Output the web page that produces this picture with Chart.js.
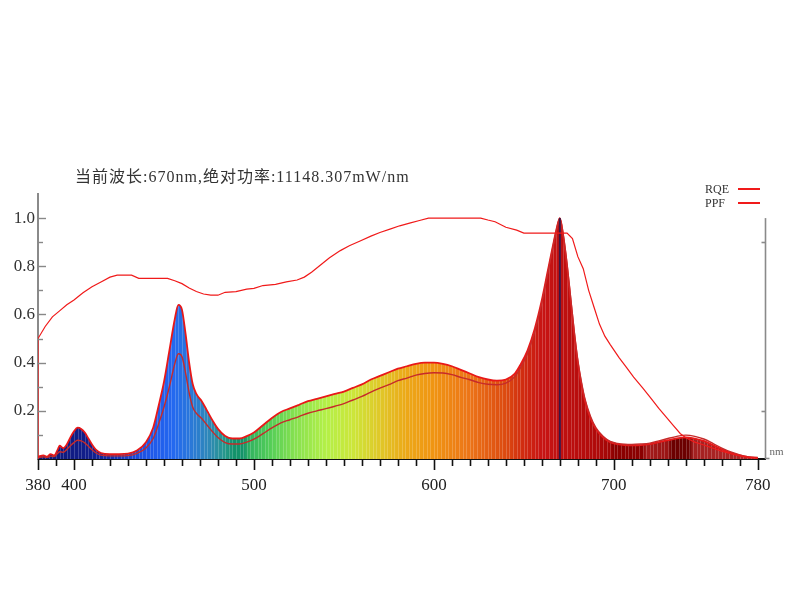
<!DOCTYPE html>
<html>
<head>
<meta charset="utf-8">
<script src="https://cdn.jsdelivr.net/npm/chart.js@4.4.1/dist/chart.umd.min.js"></script>
<style>
  body { margin: 0; background: #fff; }
  #wrap { position: relative; width: 800px; height: 600px; }
  #title {
    position: absolute; left: 75px; top: 163px;
    font: 16px "Liberation Serif", "Noto Sans CJK SC", serif;
    letter-spacing: 1px; color: #333; white-space: nowrap;
  }
  .leg {
    position: absolute; left: 705px; width: 60px; height: 14px;
    font: 12px "Liberation Serif", serif; color: #333; line-height: 14px;
  }
  .leg span {
    position: absolute; left: 33px; top: 6px; width: 22px; height: 2px;
    background: #f01a1a;
  }
</style>
</head>
<body>
<div id="wrap">
  <canvas id="myChart" width="800" height="600"></canvas>
  <div id="title">当前波长:670nm,绝对功率:11148.307mW/nm</div>
  <div class="leg" style="top:182px">RQE<span></span></div>
  <div class="leg" style="top:196px">PPF<span></span></div>
</div>
<script>
const ctx = document.getElementById('myChart').getContext('2d');

// spectrum, wavelengths (nm) and relative values
const specNm = [380,383,385,387,389,391,392,394,396,398,400,402,404,406,408,410,412,415,420,425,
  430,435,440,444,447,450,453,456,458,460,462,464,466,468,471,474,477,480,484,488,
  492,496,500,505,510,515,520,525,530,535,540,545,550,555,560,565,570,575,580,585,
  590,595,600,605,610,615,620,625,630,635,640,645,648,652,656,660,663,666,668,670,
  672,674,676,678,680,682,684,687,690,694,698,702,706,710,715,720,725,730,735,740,
  745,750,755,760,765,770,775,780];
const specVal = [0.010,0.015,0.010,0.020,0.015,0.040,0.055,0.045,0.060,0.090,0.115,0.130,0.125,0.110,0.085,0.060,0.040,0.025,0.020,0.020,
  0.022,0.035,0.070,0.130,0.220,0.320,0.450,0.580,0.640,0.620,0.520,0.400,0.310,0.270,0.240,0.200,0.160,0.125,0.095,0.085,
  0.085,0.095,0.110,0.140,0.170,0.195,0.210,0.225,0.240,0.250,0.260,0.270,0.280,0.295,0.310,0.330,0.345,0.360,0.375,0.385,
  0.395,0.400,0.400,0.395,0.385,0.370,0.355,0.340,0.330,0.325,0.330,0.355,0.390,0.450,0.540,0.660,0.770,0.880,0.950,1.000,
  0.920,0.800,0.660,0.520,0.400,0.310,0.240,0.170,0.125,0.090,0.070,0.062,0.058,0.057,0.058,0.062,0.070,0.078,0.086,0.090,
  0.085,0.075,0.058,0.040,0.025,0.015,0.008,0.005];
// PPF curve, same wavelengths
const ppfVal = [0.006,0.009,0.006,0.012,0.010,0.024,0.030,0.028,0.040,0.055,0.068,0.078,0.075,0.067,0.053,0.038,0.026,0.016,0.013,0.013,
  0.014,0.023,0.046,0.085,0.145,0.215,0.300,0.395,0.437,0.425,0.357,0.275,0.215,0.190,0.168,0.140,0.113,0.089,0.068,0.062,
  0.062,0.070,0.082,0.105,0.129,0.150,0.163,0.176,0.190,0.200,0.209,0.219,0.230,0.245,0.260,0.278,0.294,0.309,0.325,0.336,
  0.348,0.355,0.358,0.357,0.350,0.339,0.329,0.317,0.310,0.308,0.315,0.342,0.377,0.438,0.528,0.650,0.760,0.875,0.947,1.000,
  0.925,0.810,0.670,0.530,0.410,0.320,0.248,0.177,0.130,0.094,0.073,0.065,0.061,0.060,0.062,0.066,0.075,0.085,0.094,0.099,
  0.094,0.083,0.065,0.045,0.029,0.017,0.009,0.006];

// RQE curve
const rqeNm = [380,380,384,388,392,396,400,405,410,415,420,424,432,436,452,456,460,464,468,472,
  476,480,484,490,496,500,505,512,518,524,528,532,537,542,548,553,559,565,570,576,
  581,587,592,597,626,630,634,640,646,650,674,677,680,683,686,689,692,695,698,703,
  707,711,716,720,725,729,733,737,740,745,750,755,760,765,770,775,780];
const rqeVal = [0,0.50,0.55,0.59,0.615,0.64,0.66,0.69,0.715,0.735,0.755,0.763,0.763,0.75,0.75,0.74,0.728,0.71,0.695,0.685,
  0.68,0.68,0.692,0.695,0.705,0.708,0.72,0.725,0.735,0.743,0.755,0.775,0.805,0.835,0.865,0.885,0.905,0.925,0.94,0.955,
  0.968,0.98,0.99,1.0,1.0,0.992,0.985,0.962,0.95,0.938,0.938,0.915,0.84,0.79,0.70,0.63,0.56,0.51,0.475,0.42,
  0.38,0.34,0.295,0.258,0.21,0.175,0.14,0.105,0.088,0.07,0.058,0.045,0.032,0.022,0.013,0.007,0.004];

// current wavelength marker
const markerNm = 670;
const markerVal = 1.0;

const xLabels = [380, 400, 500, 600, 700, 780];
const yLabels = [0.2, 0.4, 0.6, 0.8, 1.0];

// colour of the fill along the spectrum
const spectrumStops = [
  [380,'#0e1876'],[410,'#121e8c'],[425,'#1a38bc'],[440,'#1e54e6'],[455,'#2468f0'],
  [465,'#2a78d8'],[475,'#2e88b8'],[484,'#26988a'],[489,'#12926a'],[494,'#14946a'],
  [498,'#34b460'],[508,'#50cc58'],[522,'#84e050'],[540,'#b4f048'],[555,'#cce63a'],
  [570,'#e0c828'],[585,'#eca818'],[600,'#f09412'],[620,'#ec7418'],[640,'#dc4a10'],
  [650,'#d02a10'],[660,'#c81414'],[690,'#b00a0a'],[698,'#a00606'],[700,'#8a0000'],
  [716,'#8a0000'],[718,'#a41c1c'],[730,'#9a1414'],[732,'#6c0000'],[742,'#6c0000'],
  [744,'#a42020'],[780,'#b02a2a']
];

const pts = (xs, ys) => xs.map((v, i) => ({x: v, y: ys[i]}));

let fillCache;
const spectrumFill = (context) => {
    const chart = context.chart;
    if (!chart.chartArea) return 'transparent';
    if (fillCache) return fillCache;
    const x = chart.scales.x;
    const off = document.createElement('canvas');
    off.width = chart.width;
    off.height = 1;
    const c = off.getContext('2d');
    const x0 = x.getPixelForValue(380), x1 = x.getPixelForValue(780);
    const g = c.createLinearGradient(x0, 0, x1, 0);
    spectrumStops.forEach(([nm, col]) => g.addColorStop((nm - 380) / 400, col));
    c.fillStyle = g;
    c.fillRect(0, 0, off.width, 1);
    // thin lighter stripes like the sampled bars
    c.fillStyle = 'rgba(255,255,255,0.2)';
    for (let nm = 380; nm <= 780; nm += 2) {
        c.fillRect(Math.round(x.getPixelForValue(nm)), 0, 1, 1);
    }
    fillCache = chart.ctx.createPattern(off, 'repeat');
    return fillCache;
};

// tick marks pointing inward on y, downward on x, plus the right hand axis
const tickMarks = {
    id: 'tickMarks',
    afterDraw(chart) {
        const {ctx, chartArea, scales: {x, y}} = chart;
        ctx.save();
        ctx.strokeStyle = '#111';
        ctx.lineWidth = 1.6;
        x.ticks.forEach(t => {
            const px = Math.round(x.getPixelForValue(t.value)) + 0.5;
            const len = xLabels.includes(t.value) ? 11 : 7;
            ctx.beginPath();
            ctx.moveTo(px, chartArea.bottom);
            ctx.lineTo(px, chartArea.bottom + len);
            ctx.stroke();
        });
        ctx.strokeStyle = '#888';
        ctx.lineWidth = 1.4;
        y.ticks.forEach(t => {
            const v = Math.round(t.value * 10);
            if (v <= 0 || v > 10) return;
            const py = Math.round(y.getPixelForValue(t.value)) + 0.5;
            const len = v % 2 === 0 ? 8 : 5;
            ctx.beginPath();
            ctx.moveTo(chartArea.left, py);
            ctx.lineTo(chartArea.left + len, py);
            ctx.stroke();
        });
        // right axis
        const rx = chartArea.right + 0.5;
        ctx.strokeStyle = '#8a8a8a';
        ctx.lineWidth = 1.6;
        ctx.beginPath();
        ctx.moveTo(rx, y.getPixelForValue(1.0));
        ctx.lineTo(rx, chartArea.bottom);
        ctx.stroke();
        [0.9, 0.2].forEach(v => {
            const py = Math.round(y.getPixelForValue(v)) + 0.5;
            ctx.beginPath();
            ctx.moveTo(rx, py);
            ctx.lineTo(rx - 4, py);
            ctx.stroke();
        });
        ctx.beginPath();
        ctx.moveTo(rx, chartArea.bottom - 0.5);
        ctx.lineTo(rx + 4, chartArea.bottom - 0.5);
        ctx.stroke();
        ctx.fillStyle = '#666';
        ctx.font = '11px "Liberation Serif", serif';
        ctx.textBaseline = 'bottom';
        ctx.fillText('nm', rx + 4, chartArea.bottom - 1);
        ctx.restore();
    }
};

const config = {
    type: 'line',
    data: {
        datasets: [
            {
                label: 'spectrum',
                data: pts(specNm, specVal),
                fill: 'origin',
                backgroundColor: spectrumFill,
                borderColor: '#e81818',
                borderWidth: 1.8,
                cubicInterpolationMode: 'monotone',
                pointRadius: 0,
                order: 5
            },
            {
                label: 'PPF',
                data: pts(specNm, ppfVal),
                fill: false,
                borderColor: '#c62a2a',
                borderWidth: 1.4,
                cubicInterpolationMode: 'monotone',
                pointRadius: 0,
                order: 3
            },
            {
                label: 'marker',
                data: [{x: markerNm, y: 0}, {x: markerNm, y: markerVal}],
                fill: false,
                borderColor: '#3a1646',
                borderWidth: 2,
                pointRadius: 0,
                order: 2
            },
            {
                label: 'RQE',
                data: pts(rqeNm, rqeVal),
                fill: false,
                borderColor: '#f01a1a',
                borderWidth: 1.2,
                tension: 0,
                pointRadius: 0,
                order: 1
            }
        ]
    },
    options: {
        responsive: false,
        animation: false,
        layout: { padding: { left: 0, right: 35, top: 194, bottom: 100 } },
        plugins: { legend: { display: false }, tooltip: { enabled: false } },
        scales: {
            x: {
                type: 'linear',
                min: 380,
                max: 784,
                afterBuildTicks: (scale) => {
                    const t = [];
                    for (let v = 380; v <= 780; v += 10) t.push({value: v});
                    scale.ticks = t;
                },
                afterFit: (scale) => { scale.height = 41; },
                ticks: {
                    autoSkip: false,
                    maxRotation: 0,
                    padding: 16,
                    color: '#222',
                    font: { family: '"Liberation Serif", serif', size: 17 },
                    callback: (v) => xLabels.includes(v) ? String(v) : ''
                },
                grid: { display: true, drawOnChartArea: false, drawTicks: false },
                border: { color: '#111', width: 2 }
            },
            y: {
                min: 0,
                max: 1.1,
                afterFit: (scale) => { scale.width = 38; },
                ticks: {
                    stepSize: 0.1,
                    padding: 3,
                    color: '#333',
                    font: { family: '"Liberation Serif", serif', size: 17 },
                    callback: (v) => yLabels.some(l => Math.abs(l - v) < 1e-6) ? v.toFixed(1) : ''
                },
                grid: { display: true, drawOnChartArea: false, drawTicks: false },
                border: { color: '#8a8a8a', width: 2 }
            }
        }
    },
    plugins: [tickMarks]
};

const myChart = new Chart(ctx, config);
</script>
</body>
</html>
